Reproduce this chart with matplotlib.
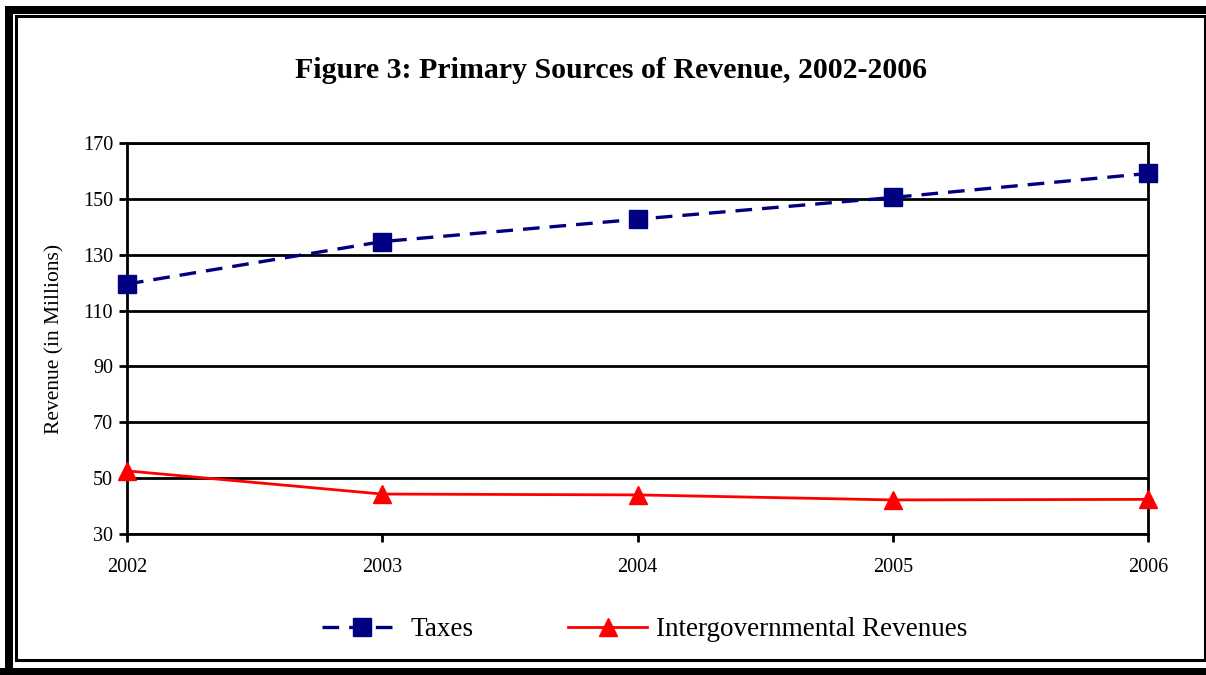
import matplotlib
matplotlib.use("Agg")
import matplotlib.pyplot as plt
from matplotlib.patches import Rectangle

# Values (in millions)
years = [2002, 2003, 2004, 2005, 2006]
taxes = [119.5, 134.7, 142.7, 150.5, 159.1]
intergov = [52.6, 44.3, 44.0, 42.2, 42.4]
y_ticks = [30, 50, 70, 90, 110, 130, 150, 170]

plt.rcParams['font.family'] = ['Liberation Serif', 'DejaVu Serif']

W, H = 1206, 675
fig = plt.figure(figsize=(W / 100, H / 100), dpi=100)

# double frame around the chart (thick outer, thin inner)
fig.patches.append(Rectangle((5 / W, 0), 8 / W, 1 - 6 / H, transform=fig.transFigure,
                             color='black', lw=0))
fig.patches.append(Rectangle((5 / W, 1 - 14 / H), 1, 8 / H, transform=fig.transFigure,
                             color='black', lw=0))
fig.patches.append(Rectangle((0, 0), 1, 7 / H, transform=fig.transFigure,
                             color='black', lw=0))
fig.patches.append(Rectangle((16 / W, 15 / H), 1 - 17.5 / W, 1 - 31 / H,
                             transform=fig.transFigure, fill=False,
                             edgecolor='black', lw=2.2))

ax = fig.add_axes([127 / W, 1 - 534 / H, (1148 - 127) / W, (534 - 143) / H])

ax.plot(years, taxes, color='#000080', linestyle=(0, (5, 3)), lw=2.4,
        marker='s', markersize=12.5, label='Taxes', clip_on=False, zorder=4)
ax.plot(years, intergov, color='#ff0000', linestyle='-', lw=2.0,
        marker='^', markersize=13, label='Intergovernmental Revenues',
        clip_on=False, zorder=4)

ax.set_xlim(2002, 2006)
ax.set_ylim(30, 170)
ax.set_xticks(years)
ax.set_yticks(y_ticks)
ax.yaxis.grid(True, color='black', lw=2)
ax.set_axisbelow(True)
for s in ax.spines.values():
    s.set_linewidth(2)
    s.set_color('black')
ax.tick_params(axis='both', direction='out', length=6, width=2, labelsize=14.5,
               colors='black')
ax.tick_params(axis='x', pad=11)
ax.tick_params(axis='y', pad=4)
ax.set_ylabel('Revenue (in Millions)', fontsize=15.5)
ax.yaxis.set_label_coords(-63 / (1148 - 127), 0.5)

fig.text(611 / W, 1 - 71 / H, 'Figure 3: Primary Sources of Revenue, 2002-2006',
         ha='center', va='center', fontsize=21.5, fontweight='bold')

fig.legend(loc='center', bbox_to_anchor=(645 / W, 1 - 630 / H), ncol=2,
           frameon=False, fontsize=19.5, handlelength=2.9, columnspacing=3.5,
           handletextpad=0.35)

fig.savefig('out.png', dpi=100)
